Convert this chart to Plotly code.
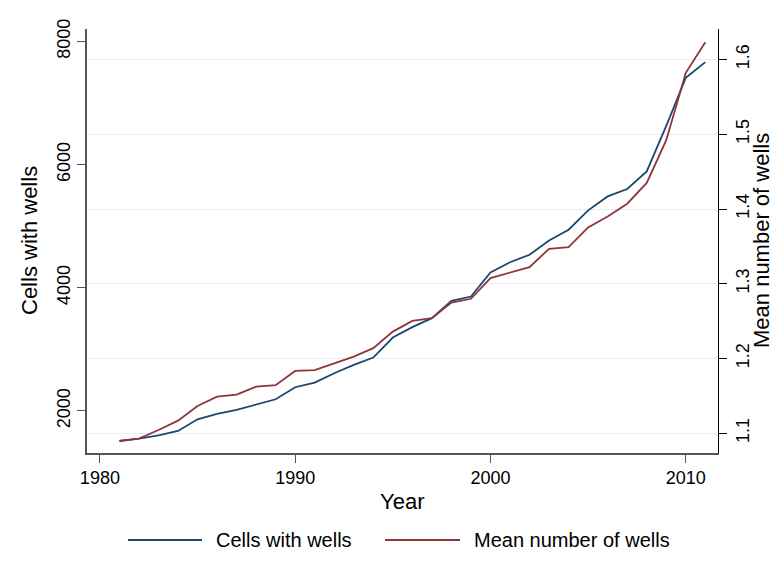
import plotly.graph_objects as go

years = list(range(1981, 2012))

cells_with_wells = [1512, 1550, 1605, 1675, 1865, 1951, 2016, 2098, 2190, 2385,
                    2460, 2613, 2748, 2867, 3192, 3361, 3507, 3789, 3858, 4249,
                    4415, 4537, 4769, 4943, 5258, 5484, 5604, 5890, 6630, 7410,
                    7665]

mean_wells = [1.0897, 1.0928, 1.1044, 1.1169, 1.1366, 1.1490, 1.1517, 1.1624,
              1.1643, 1.1834, 1.1845, 1.1937, 1.2026, 1.2138, 1.2360, 1.2504,
              1.2540, 1.2749, 1.2799, 1.3076, 1.3150, 1.3223, 1.3468, 1.3491,
              1.3753, 1.3901, 1.4071, 1.4348, 1.4920, 1.5821, 1.6231]

x_ticks = [1980, 1990, 2000, 2010]
left_ticks = [2000, 4000, 6000, 8000]
right_ticks = [1.1, 1.2, 1.3, 1.4, 1.5, 1.6]

BLUE = "#1a476f"
RED = "#90353b"
FONT = "Liberation Sans, Arial, Helvetica, sans-serif"

# page has the default 8px body margin, so the figure is drawn 8px in
OFF = 8
FW, FH = 783 - OFF, 582 - OFF
# plot area in page pixels (left, right, top, bottom)
L, R, T, B = 87, 718, 29, 453
W, H = R - L, B - T


def px(x):
    return (x - L) / W


def py(y):
    return (B - y) / H


fig = go.Figure()

# series 1: left axis
fig.add_trace(go.Scatter(
    x=years, y=cells_with_wells, mode="lines", name="Cells with wells",
    line=dict(color=BLUE, width=1.8), yaxis="y"
))

# series 2: right axis
fig.add_trace(go.Scatter(
    x=years, y=mean_wells, mode="lines", name="Mean number of wells",
    line=dict(color=RED, width=1.8), yaxis="y2"
))

fig.update_layout(
    width=FW, height=FH,
    paper_bgcolor="white", plot_bgcolor="white",
    margin=dict(l=L - OFF, r=783 - R, t=T - OFF, b=582 - B),
    font=dict(family=FONT, color="#000", size=18),
    showlegend=False,
    xaxis=dict(
        range=[1979.34, 2011.65], tickvals=x_ticks, automargin=False,
        showgrid=False, zeroline=False,
        showline=True, linecolor="#555", linewidth=1.5,
        ticks="outside", ticklen=8, tickcolor="#555",
        tickfont=dict(size=18),
    ),
    yaxis=dict(
        range=[1317, 8203], tickvals=left_ticks, tickangle=-90, automargin=False,
        showgrid=False, zeroline=False,
        showline=True, linecolor="#555", linewidth=1.5,
        ticks="outside", ticklen=8, tickcolor="#555",
        tickfont=dict(size=18),
    ),
    yaxis2=dict(
        range=[1.0736, 1.6408], tickvals=right_ticks, tickangle=-90,
        overlaying="y", side="right", automargin=False,
        showgrid=True, gridcolor="#e6eef0", gridwidth=1, zeroline=False,
        showline=True, linecolor="#000", linewidth=1.2,
        ticks="outside", ticklen=8, tickcolor="#000",
        tickfont=dict(size=18),
    ),
)

# axis titles
titles = [("Year", 402, 502, 0), ("Cells with wells", 29, 241, -90),
          ("Mean number of wells", 761, 241, -90)]
for text, x, y, ang in titles:
    fig.add_annotation(xref="paper", yref="paper", x=px(x), y=py(y),
                       text=text, showarrow=False, textangle=ang,
                       xanchor="center", yanchor="middle", font=dict(size=22))

# legend drawn below the plot, Stata style
legend_items = [("Cells with wells", BLUE, 128, 202, 214),
                ("Mean number of wells", RED, 385, 460, 472)]
ly = py(540)
for label, color, x0, x1, xt in legend_items:
    fig.add_shape(type="line", xref="paper", yref="paper",
                  x0=px(x0), x1=px(x1), y0=ly, y1=ly,
                  line=dict(color=color, width=1.8))
    fig.add_annotation(xref="paper", yref="paper", x=px(xt), y=ly,
                       text=label, showarrow=False, xanchor="left",
                       yanchor="middle", font=dict(size=20))

fig.write_html("out.html")
